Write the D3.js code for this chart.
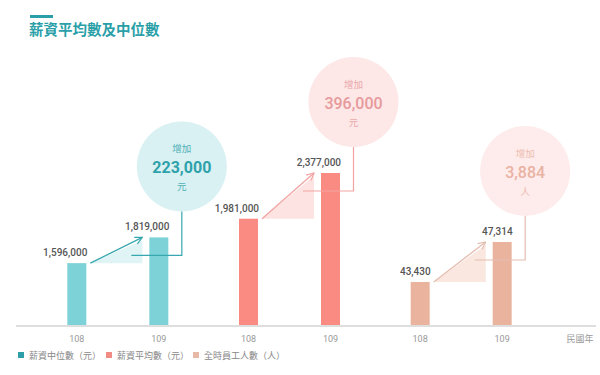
<!DOCTYPE html>
<html>
<head>
<meta charset="utf-8">
<script src="https://cdn.jsdelivr.net/npm/d3@7"></script>
<style>
  body { margin: 0; background: #fff; }
  svg { font-family: "Noto Sans CJK TC", "Noto Sans", sans-serif; }
</style>
</head>
<body>
<div id="chart"></div>
<script>
// data
var groups = ["median", "mean", "staff"];
var years = ["108", "109"];
var medianPay = [1596000, 1819000];
var meanPay = [1981000, 2377000];
var staffCount = [43430, 47314];
var increases = ["223,000", "396,000", "3,884"];
var units = ["元", "元", "人"];
var legendNames = ["薪資中位數（元）", "薪資平均數（元）", "全時員工人數（人）"];

var width = 600, height = 375;
var baseY = 325;

var barColor = ["#7dd2d8", "#fa8b83", "#e9b39e"];
var lineColor = ["#38a8b0", "#f2a3a1", "#e5bdb0"];
var shadeColor = ["#e0f4f5", "#fde4e3", "#f9e7e0"];
var bubbleColor = ["#d9f1f2", "#fde7e7", "#fdeceb"];
var bubbleText = ["#2ea2ab", "#e79a9b", "#eab2a3"];
var legendColor = ["#2c9fa7", "#f08c84", "#e6b9a7"];

var svg = d3.select("#chart").append("svg").attr("width", width).attr("height", height);

// title
svg.append("rect").attr("x", 30).attr("y", 15).attr("width", 23).attr("height", 3).attr("fill", "#2a9fa8");
svg.append("text").attr("x", 29).attr("y", 35)
    .style("font-size", "14.5px").style("font-weight", "bold").attr("fill", "#2a9fa8")
    .text("薪資平均數及中位數");

// scales
var xGroup = d3.scaleBand().domain(groups).range([32, 547]);
var xYear = d3.scalePoint().domain(years)
    .range([xGroup.bandwidth() / 2 - 41, xGroup.bandwidth() / 2 + 41]);
var yMoney = d3.scaleLinear().domain([1060000, 2377000]).range([baseY, 173]);
var yStaff = d3.scaleLinear().domain([39250, 47314]).range([baseY, 242]);
var barW = 19;

var series = [medianPay, meanPay, staffCount];
var scales = [yMoney, yMoney, yStaff];

// axis line
svg.append("line").attr("x1", 16).attr("x2", 596).attr("y1", baseY + 1).attr("y2", baseY + 1)
    .attr("stroke", "#dedede").attr("stroke-width", 2);

var marker = svg.append("defs");
groups.forEach(function(g, i) {
    marker.append("marker").attr("id", "arr" + i)
        .attr("viewBox", "0 0 10 10").attr("refX", 9).attr("refY", 5)
        .attr("markerWidth", 7).attr("markerHeight", 7).attr("orient", "auto")
        .append("path").attr("d", "M1,1 L9,5 L1,9")
        .attr("fill", "none").attr("stroke", lineColor[i]).attr("stroke-width", 1.3);
});

groups.forEach(function(g, i) {
    var y = scales[i];
    var vals = series[i];
    var gx = xGroup(g);
    var cx = years.map(function(yr) { return gx + xYear(yr); });
    var tops = vals.map(function(v) { return y(v); });

    // shaded triangle + arrow
    var x0 = cx[0] + barW / 2 + 4, x1 = cx[1] - barW / 2 - 7;
    svg.append("path")
        .attr("d", "M" + x0 + "," + tops[0] + "L" + x1 + "," + (tops[1] + 3) + "L" + x1 + "," + tops[0] + "Z")
        .attr("fill", shadeColor[i]);

    // bars
    svg.selectAll(".bar" + i).data(vals).enter().append("rect")
        .attr("x", function(d, j) { return cx[j] - barW / 2; })
        .attr("y", function(d) { return y(d); })
        .attr("width", barW)
        .attr("height", function(d) { return baseY - y(d); })
        .attr("fill", barColor[i]);

    svg.append("line").attr("x1", x0).attr("y1", tops[0]).attr("x2", x1).attr("y2", tops[1])
        .attr("stroke", lineColor[i]).attr("stroke-width", 1.3).attr("marker-end", "url(#arr" + i + ")");

    // value labels
    svg.selectAll(".val" + i).data(vals).enter().append("text")
        .attr("x", function(d, j) { return cx[j] + barW / 2 + 1; })
        .attr("y", function(d) { return y(d) - 7; })
        .attr("text-anchor", "end")
        .style("font-family", "Roboto, sans-serif")
        .style("font-size", "10px").style("font-weight", "500")
        .attr("fill", "#555")
        .text(function(d) { return d3.format(",")(d); });

    // bubble
    var bx = cx[1] + 23, by = tops[1] - 71, r = 45;
    var ly = tops[1] + 18;
    svg.append("circle").attr("cx", bx).attr("cy", by).attr("r", r).attr("fill", bubbleColor[i]);
    svg.append("path")
        .attr("d", "M" + (cx[1] - barW / 2 - 18) + "," + ly + "H" + bx + "V" + (by + r))
        .attr("fill", "none").attr("stroke", lineColor[i]).attr("stroke-width", 1.2);
    svg.append("text").attr("x", bx).attr("y", by - 14).attr("text-anchor", "middle")
        .style("font-size", "9.5px").attr("fill", bubbleText[i]).attr("opacity", 0.8).text("增加");
    svg.append("text").attr("x", bx).attr("y", by + 7).attr("text-anchor", "middle")
        .style("font-family", "Roboto, sans-serif")
        .style("font-size", "16px").style("font-weight", i === 0 ? "bold" : "500")
        .attr("fill", bubbleText[i]).text(increases[i]);
    svg.append("text").attr("x", bx).attr("y", by + 24).attr("text-anchor", "middle")
        .style("font-size", "9.5px").attr("fill", bubbleText[i]).attr("opacity", 0.8).text(units[i]);

    // year ticks
    svg.selectAll(".yr" + i).data(years).enter().append("text")
        .attr("x", function(d, j) { return cx[j]; })
        .attr("y", 342).attr("text-anchor", "middle")
        .style("font-family", "Roboto, sans-serif")
        .style("font-size", "9px").attr("fill", "#999")
        .text(function(d) { return d; });
});

svg.append("text").attr("x", 580).attr("y", 342).attr("text-anchor", "middle")
    .style("font-size", "9px").attr("fill", "#999").text("民國年");

// legend
var legX = [18, 106, 193];
legendNames.forEach(function(name, i) {
    svg.append("rect").attr("x", legX[i]).attr("y", 352).attr("width", 6).attr("height", 6).attr("fill", legendColor[i]);
    svg.append("text").attr("x", legX[i] + 11).attr("y", 359)
        .style("font-size", "9px").attr("fill", "#888").text(name);
});
</script>
</body>
</html>
